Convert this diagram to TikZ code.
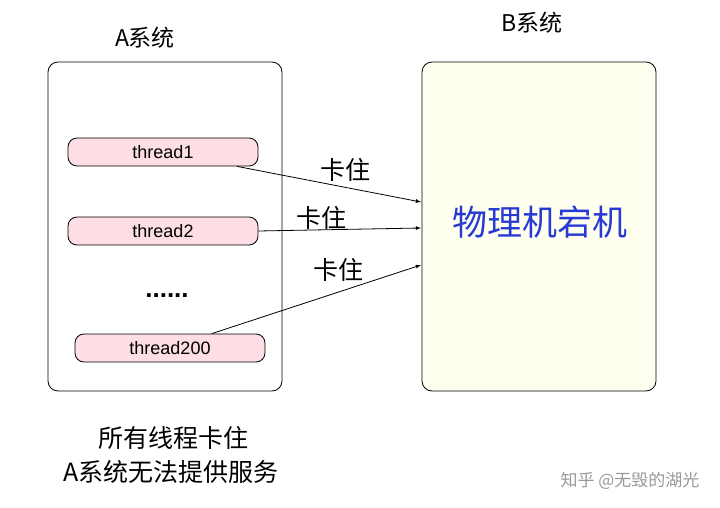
\documentclass[tikz,border=0pt]{standalone}
\usepackage{fontspec}
\setmainfont{Liberation Sans}
\newfontfamily\cjk{Noto Sans CJK SC}
\usetikzlibrary{positioning,arrows}
\definecolor{threadpink}{RGB}{252,222,228}
\definecolor{ivory}{RGB}{255,255,240}
\definecolor{crashblue}{RGB}{40,58,212}
\tikzstyle{sysbox} = [draw,rounded corners=10pt,line width=0.8pt,minimum width=234pt,minimum height=329pt]
\tikzstyle{thread} = [draw,fill=threadpink,rounded corners=9pt,line width=0.8pt,minimum width=190pt,minimum height=28pt,font=\fontsize{18}{20}\selectfont]
\tikzstyle{stuck} = [font=\cjk\fontsize{25}{28}\selectfont]

\begin{document}
\begin{tikzpicture}[x=1pt,y=-1pt]
\useasboundingbox (0,0) rectangle (720,508);

% the two systems
\node[sysbox] (sysA) at (165,226.5) {};
\node[sysbox,fill=ivory] (sysB) at (539,226.5) {};
\node[stuck,font=\cjk\fontsize{23}{26}\selectfont] at (145,38) {A系统};
\node[stuck,font=\cjk\fontsize{23}{26}\selectfont] at (532,23) {B系统};

% threads of A
\node[thread] (t_1) at (163,152) {thread1};
\node[thread] (t_2) at (163,231) {thread2};
\node[thread] (t_3) at (170,348) {thread200};
\node[font=\bfseries\fontsize{26}{30}\selectfont] (dots) at (167,296) {......};

\node[font=\cjk\fontsize{35}{38}\selectfont,text=crashblue] (down) at (540,222) {物理机宕机};

% calls that hang
\coordinate (b_1) at (421,202);
\coordinate (b_2) at (421,228);
\coordinate (b_3) at (421,265);
\draw[-latex,line width=0.8pt] (t_1.-11) -- (b_1);
\draw[-latex,line width=0.8pt] (t_2.east) -- (b_2);
\draw[-latex,line width=0.8pt] (t_3.19) -- (b_3);
\node[stuck] at (345,170) {卡住};
\node[stuck] at (321,218) {卡住};
\node[stuck] at (338,270) {卡住};

% result
\node[stuck] at (173,438) {所有线程卡住};
\node[stuck] at (171,472) {A系统无法提供服务};

\node[font=\cjk\fontsize{17}{20}\selectfont,text=black!40,anchor=east] at (703,481) {知乎 @无毁的湖光};
\end{tikzpicture}
\end{document}
